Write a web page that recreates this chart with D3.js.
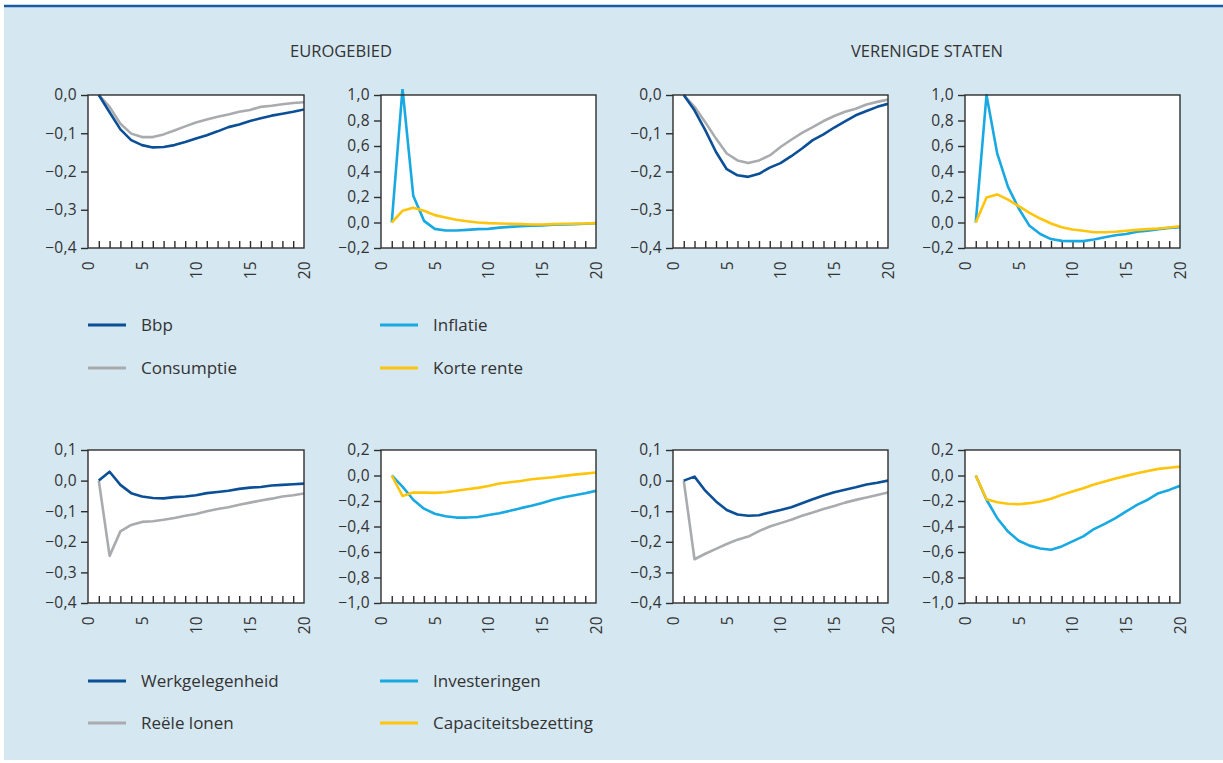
<!DOCTYPE html>
<html>
<head>
<meta charset="utf-8">
<script src="https://cdn.jsdelivr.net/npm/d3@7"></script>
<style>
  html, body { margin: 0; padding: 0; background: #ffffff; }
  svg { display: block; font-family: "Open Sans", "Noto Sans", sans-serif; }
</style>
</head>
<body>
<svg id="chart" width="1223" height="763"></svg>
<script>
// Quarters after the shock
const quarters = d3.range(1, 21);
const xTicks = [0, 5, 10, 15, 20];

// Eurogebied
const euBbp = [0, -0.045, -0.09, -0.118, -0.131, -0.137, -0.136, -0.131, -0.123, -0.114, -0.105, -0.095, -0.084, -0.077, -0.068, -0.061, -0.054, -0.049, -0.044, -0.038];
const euConsumptie = [0, -0.031, -0.075, -0.101, -0.11, -0.11, -0.103, -0.093, -0.082, -0.072, -0.064, -0.057, -0.051, -0.044, -0.039, -0.031, -0.028, -0.024, -0.021, -0.019];
const euInflatie = [0, 1.05, 0.21, 0.013, -0.05, -0.063, -0.063, -0.058, -0.052, -0.05, -0.04, -0.034, -0.03, -0.026, -0.024, -0.018, -0.016, -0.013, -0.01, -0.005];
const euKorteRente = [0, 0.092, 0.115, 0.092, 0.058, 0.04, 0.021, 0.01, 0.0, -0.005, -0.008, -0.01, -0.013, -0.016, -0.016, -0.013, -0.01, -0.01, -0.008, -0.005];
const euWerkgelegenheid = [0, 0.029, -0.014, -0.041, -0.052, -0.057, -0.058, -0.054, -0.052, -0.048, -0.041, -0.037, -0.033, -0.027, -0.023, -0.021, -0.016, -0.014, -0.012, -0.01];
const euLonen = [0, -0.246, -0.166, -0.145, -0.135, -0.133, -0.128, -0.122, -0.115, -0.109, -0.1, -0.093, -0.087, -0.079, -0.072, -0.065, -0.059, -0.052, -0.048, -0.042];
const euInvesteringen = [0, -0.087, -0.19, -0.26, -0.3, -0.32, -0.33, -0.33, -0.325, -0.31, -0.296, -0.277, -0.256, -0.238, -0.215, -0.19, -0.17, -0.155, -0.139, -0.12];
const euCapaciteit = [0, -0.16, -0.134, -0.134, -0.136, -0.131, -0.12, -0.108, -0.097, -0.082, -0.063, -0.053, -0.043, -0.03, -0.022, -0.014, -0.003, 0.007, 0.015, 0.023];

// Verenigde Staten
const usBbp = [0, -0.04, -0.092, -0.149, -0.194, -0.21, -0.214, -0.206, -0.19, -0.178, -0.16, -0.14, -0.118, -0.103, -0.085, -0.069, -0.053, -0.042, -0.031, -0.023];
const usConsumptie = [0, -0.031, -0.071, -0.114, -0.153, -0.171, -0.178, -0.171, -0.158, -0.136, -0.117, -0.099, -0.084, -0.068, -0.055, -0.044, -0.036, -0.025, -0.018, -0.012];
const usInflatie = [0, 1.0, 0.54, 0.28, 0.11, -0.026, -0.09, -0.13, -0.144, -0.146, -0.146, -0.133, -0.115, -0.1, -0.09, -0.073, -0.065, -0.052, -0.042, -0.037];
const usKorteRente = [0, 0.196, 0.22, 0.18, 0.128, 0.076, 0.031, -0.008, -0.037, -0.055, -0.065, -0.076, -0.076, -0.073, -0.065, -0.058, -0.052, -0.047, -0.039, -0.029];
const usWerkgelegenheid = [0, 0.013, -0.033, -0.068, -0.096, -0.111, -0.115, -0.113, -0.104, -0.096, -0.087, -0.074, -0.061, -0.049, -0.038, -0.03, -0.022, -0.013, -0.007, 0];
const usLonen = [0, -0.257, -0.239, -0.223, -0.207, -0.193, -0.183, -0.165, -0.15, -0.139, -0.128, -0.115, -0.104, -0.093, -0.083, -0.072, -0.063, -0.055, -0.047, -0.039];
const usInvesteringen = [0, -0.19, -0.335, -0.44, -0.512, -0.55, -0.572, -0.582, -0.556, -0.517, -0.478, -0.42, -0.379, -0.335, -0.282, -0.23, -0.19, -0.139, -0.113, -0.081];
const usCapaciteit = [0, -0.186, -0.21, -0.222, -0.225, -0.217, -0.204, -0.183, -0.152, -0.126, -0.1, -0.07, -0.047, -0.024, -0.003, 0.017, 0.036, 0.052, 0.061, 0.07];

// Y tick values per panel type
const ticksSmall = [0.0, -0.1, -0.2, -0.3, -0.4];
const ticksInfl = [1.0, 0.8, 0.6, 0.4, 0.2, 0.0, -0.2];
const ticksWage = [0.1, 0.0, -0.1, -0.2, -0.3, -0.4];
const ticksInv = [0.2, 0.0, -0.2, -0.4, -0.6, -0.8, -1.0];

const regionTitles = ["EUROGEBIED", "VERENIGDE STATEN"];
const legendTop = [["Bbp", "Inflatie"], ["Consumptie", "Korte rente"]];
const legendBottom = [["Werkgelegenheid", "Investeringen"], ["Reële lonen", "Capaciteitsbezetting"]];

const C = {
  blue: "#0b4f97",
  grey: "#a9abae",
  cyan: "#18a9e2",
  yellow: "#ffc40c",
  axis: "#2e2e2e",
  text: "#333333",
  bg: "#d5e7f1"
};

const FONT = '"Open Sans", "Noto Sans", sans-serif';
const TICK_FS = 15.5;

const svg = d3.select("#chart");

// Panel background and top rule
svg.append("rect").attr("x", 4).attr("y", 6).attr("width", 1219).attr("height", 754).attr("fill", C.bg);
svg.append("line").attr("x1", 4).attr("x2", 1223).attr("y1", 6).attr("y2", 6)
  .attr("stroke", "#1a5aa3").attr("stroke-width", 2.5);

// Region titles
svg.append("text").attr("x", 341).attr("y", 57).attr("text-anchor", "middle")
  .attr("font-size", 16.5).attr("fill", C.text).text(regionTitles[0]);
svg.append("text").attr("x", 927).attr("y", 57).attr("text-anchor", "middle")
  .attr("font-size", 16.5).attr("fill", C.text).text(regionTitles[1]);

const fmt = v => {
  const s = d3.format(".1f")(Math.abs(v) < 1e-9 ? 0 : v).replace(".", ",");
  return s.replace("-", "\u2013");
};

function panel(x0, x1, y0, y1, domain, yTicks, series) {
  const x = d3.scaleLinear().domain([0, 20]).range([x0, x1]);
  const y = d3.scaleLinear().domain(domain).range([y1, y0]);
  const g = svg.append("g");

  g.append("rect").attr("x", x0).attr("y", y0).attr("width", x1 - x0).attr("height", y1 - y0)
    .attr("fill", "#ffffff");

  const clipId = "clip" + Math.round(x0) + "_" + Math.round(y0);
  g.append("clipPath").attr("id", clipId).append("rect")
    .attr("x", x0).attr("y", y0 - 6).attr("width", x1 - x0).attr("height", y1 - y0 + 6);

  // Inward minor ticks along the bottom
  const xAxisMinor = d3.axisTop(x).tickValues(d3.range(1, 20)).tickSize(7).tickFormat("");
  g.append("g").attr("transform", `translate(0,${y1})`).call(xAxisMinor)
    .call(s => s.select(".domain").remove())
    .call(s => s.selectAll("line").attr("stroke", C.axis).attr("stroke-width", 1.4));

  // Rotated labels under the axis
  const xAxisLab = d3.axisBottom(x).tickValues(xTicks).tickSize(0).tickPadding(0);
  g.append("g").attr("transform", `translate(0,${y1})`).call(xAxisLab)
    .call(s => s.select(".domain").remove())
    .call(s => s.selectAll("text")
      .attr("font-size", TICK_FS).attr("fill", C.text).attr("font-family", FONT)
      .attr("letter-spacing", 0.3)
      .attr("transform", "rotate(-90)")
      .attr("text-anchor", "end").attr("x", -13).attr("y", 0).attr("dy", "0.35em"));

  const yAxis = d3.axisLeft(y).tickValues(yTicks).tickSize(7).tickPadding(4).tickFormat(fmt);
  g.append("g").attr("transform", `translate(${x0},0)`).call(yAxis)
    .call(s => s.select(".domain").remove())
    .call(s => s.selectAll("line").attr("stroke", C.axis).attr("stroke-width", 1.4))
    .call(s => s.selectAll("text").attr("font-size", TICK_FS).attr("fill", C.text)
      .attr("font-family", FONT).attr("letter-spacing", 0.3));

  const line = d3.line().x((d, i) => x(quarters[i])).y(d => y(d));
  series.forEach(sr => {
    g.append("path").datum(sr.values).attr("d", line)
      .attr("fill", "none").attr("stroke", sr.color).attr("stroke-width", 2.6)
      .attr("stroke-linejoin", "round")
      .attr("clip-path", `url(#${clipId})`);
  });

  g.append("rect").attr("x", x0).attr("y", y0).attr("width", x1 - x0).attr("height", y1 - y0)
    .attr("fill", "none").attr("stroke", C.axis).attr("stroke-width", 1.4);
}

const topY = [95, 248];
const botY = [450, 603];
const cols = [[88, 304], [381, 596], [673, 888], [965, 1180]];

panel(cols[0][0], cols[0][1], topY[0], topY[1], [-0.4, 0], ticksSmall,
  [{ values: euConsumptie, color: C.grey }, { values: euBbp, color: C.blue }]);
panel(cols[1][0], cols[1][1], topY[0], topY[1], [-0.2, 1.0], ticksInfl,
  [{ values: euInflatie, color: C.cyan }, { values: euKorteRente, color: C.yellow }]);
panel(cols[2][0], cols[2][1], topY[0], topY[1], [-0.4, 0], ticksSmall,
  [{ values: usConsumptie, color: C.grey }, { values: usBbp, color: C.blue }]);
panel(cols[3][0], cols[3][1], topY[0], topY[1], [-0.2, 1.0], ticksInfl,
  [{ values: usInflatie, color: C.cyan }, { values: usKorteRente, color: C.yellow }]);

panel(cols[0][0], cols[0][1], botY[0], botY[1], [-0.4, 0.1], ticksWage,
  [{ values: euLonen, color: C.grey }, { values: euWerkgelegenheid, color: C.blue }]);
panel(cols[1][0], cols[1][1], botY[0], botY[1], [-1.0, 0.2], ticksInv,
  [{ values: euInvesteringen, color: C.cyan }, { values: euCapaciteit, color: C.yellow }]);
panel(cols[2][0], cols[2][1], botY[0], botY[1], [-0.4, 0.1], ticksWage,
  [{ values: usLonen, color: C.grey }, { values: usWerkgelegenheid, color: C.blue }]);
panel(cols[3][0], cols[3][1], botY[0], botY[1], [-1.0, 0.2], ticksInv,
  [{ values: usInvesteringen, color: C.cyan }, { values: usCapaciteit, color: C.yellow }]);

// Legends
function legend(labels, rowY) {
  const colors = [[C.blue, C.cyan], [C.grey, C.yellow]];
  const colX = [88, 380];
  labels.forEach((row, r) => {
    row.forEach((lab, c) => {
      const yy = rowY[r];
      svg.append("line").attr("x1", colX[c]).attr("x2", colX[c] + 38)
        .attr("y1", yy).attr("y2", yy).attr("stroke", colors[r][c]).attr("stroke-width", 3);
      svg.append("text").attr("x", colX[c] + 53).attr("y", yy).attr("dy", "0.35em")
        .attr("font-size", 17).attr("fill", C.text).text(lab);
    });
  });
}
legend(legendTop, [325, 368]);
legend(legendBottom, [681, 723]);
</script>
</body>
</html>
